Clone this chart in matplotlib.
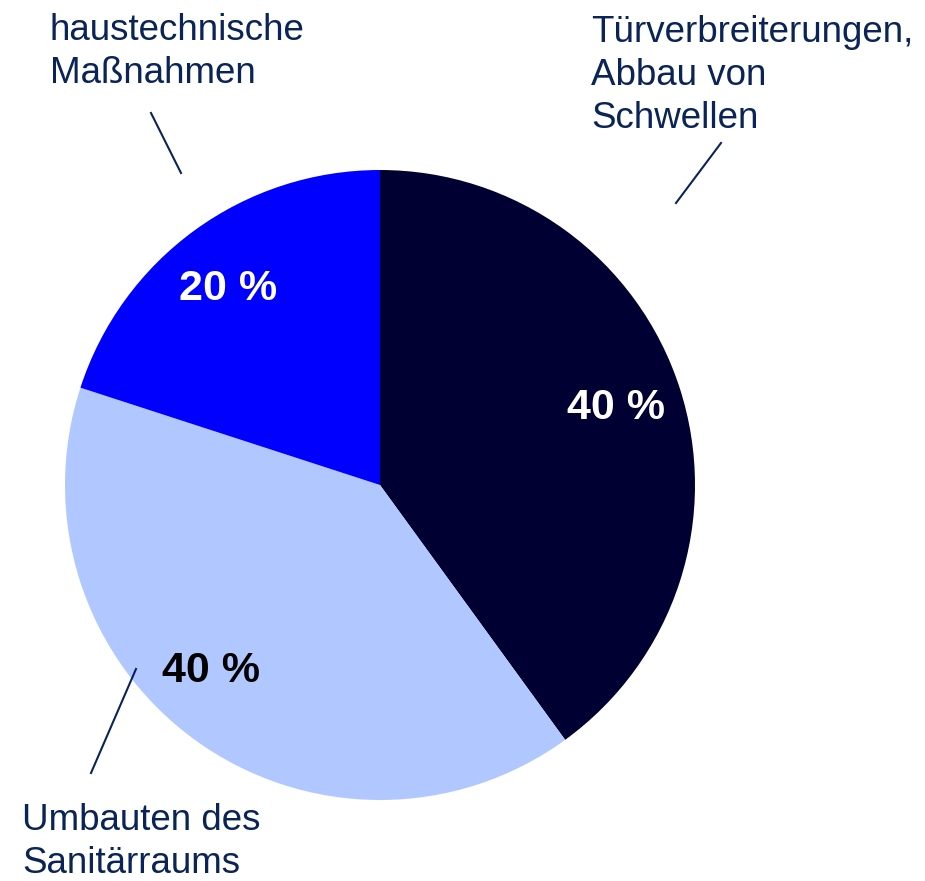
import matplotlib.pyplot as plt
import matplotlib

matplotlib.rcParams['font.family'] = ['Liberation Sans', 'DejaVu Sans']

# slices, clockwise from 12 o'clock
labels = ["Türverbreiterungen,\nAbbau von\nSchwellen",
          "Umbauten des\nSanitärraums",
          "haustechnische\nMaßnahmen"]
shares = [40, 40, 20]
colors = ["#000033", "#b0c8ff", "#0000ff"]
pct_colors = ["white", "black", "white"]

navy = "#0a2458"
W, H = 925, 881

fig = plt.figure(figsize=(W / 100, H / 100), dpi=100)
ax = fig.add_axes([0, 0, 1, 1])

wedges, texts, autotexts = ax.pie(
    shares, colors=colors, startangle=90, counterclock=False,
    center=(380, H - 485), radius=315, frame=True,
    autopct=lambda p: f"{p:.0f} %", pctdistance=0.79,
    wedgeprops=dict(linewidth=0),
    textprops=dict(fontsize=31, fontweight="bold"))

# percentage label centres as placed in the reference (pixels)
pct_pos = [(616, 408), (211, 671), (228, 289)]
for t, c, (x, y) in zip(autotexts, pct_colors, pct_pos):
    t.set_color(c)
    t.set_position((x, H - y))
ax.set_xlim(0, W)
ax.set_ylim(0, H)
ax.axis("off")

# outer labels (left x, last-line baseline y) and leader lines in pixels
label_pos = [(591, 128), (22, 873), (50, 83)]
leaders = [((721, 143), (676, 203)),
           ((136, 669), (91, 773)),
           ((151, 113), (181, 173))]

for lab, (x, y), ((x0, y0), (x1, y1)) in zip(labels, label_pos, leaders):
    ax.text(x, H - y, lab, fontsize=26.5, color=navy, ha="left",
            va="baseline", linespacing=1.29)
    ax.plot([x0, x1], [H - y0, H - y1], color=navy, lw=1.5)

plt.savefig("out.png", dpi=100)
plt.close()
